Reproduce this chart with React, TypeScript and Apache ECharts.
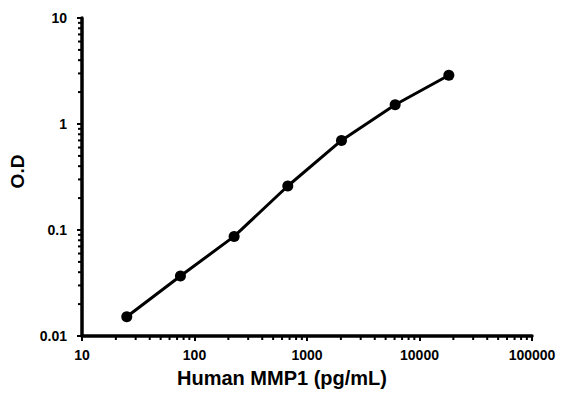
import React, { useEffect, useRef } from "react";
import * as echarts from "echarts";

const concentrations = [25, 75, 225, 675, 2025, 6075, 18225];
const odValues = [0.0152, 0.0368, 0.087, 0.26, 0.70, 1.52, 2.88];
const xMinorTicks = [20, 30, 40, 50, 60, 70, 80, 90, 200, 300, 400, 500, 600, 700, 800, 900, 2000, 3000, 4000, 5000, 6000, 7000, 8000, 9000, 20000, 30000, 40000, 50000, 60000, 70000, 80000, 90000];
const yMinorTicks = [0.02, 0.03, 0.04, 0.05, 0.06, 0.07, 0.08, 0.09, 0.2, 0.3, 0.4, 0.5, 0.6, 0.7, 0.8, 0.9, 2, 3, 4, 5, 6, 7, 8, 9];

export default function App() {
  const ref = useRef<HTMLDivElement>(null);
  useEffect(() => {
    if (!ref.current) return;
    document.body.style.margin = "0";
    const chart = echarts.init(ref.current, undefined, { renderer: "svg" });
    const font = "'Liberation Sans', Arial, sans-serif";
    chart.setOption({
      animation: false,
      backgroundColor: "#ffffff",
      grid: { left: 82, right: 35, top: 18, bottom: 60, containLabel: false, outerBoundsMode: "none" },
      xAxis: {
        type: "log",
        logBase: 10,
        min: 10,
        max: 100000,
        name: "Human MMP1 (pg/mL)",
        nameLocation: "middle",
        nameGap: 32,
        nameTextStyle: { fontFamily: font, fontWeight: "bold", fontSize: 20, color: "#000", padding: [0, 50, 0, 0] },
        axisLine: { lineStyle: { color: "#000", width: 3.5 } },
        axisTick: { show: true, inside: false, length: 5, lineStyle: { color: "#000", width: 2 } },
        axisLabel: { fontFamily: font, fontWeight: "bold", fontSize: 14, color: "#000", margin: 12, formatter: (v: number) => String(v) },
        splitLine: { show: false },
      },
      yAxis: {
        type: "log",
        logBase: 10,
        min: 0.01,
        max: 10,
        name: "O.D",
        nameLocation: "middle",
        nameGap: 55,
        nameRotate: 90,
        nameTextStyle: { fontFamily: font, fontWeight: "bold", fontSize: 19, color: "#000", padding: [0, 0, 0, 11] },
        axisLine: { lineStyle: { color: "#000", width: 3.5 } },
        axisTick: { show: true, inside: false, length: 5, lineStyle: { color: "#000", width: 2 } },
        axisLabel: { fontFamily: font, fontWeight: "bold", fontSize: 14, color: "#000", margin: 15, formatter: (v: number) => String(v) },
        splitLine: { show: false },
      },
      series: [
        {
          type: "line",
          data: concentrations.map((c, i) => [c, odValues[i]]),
          lineStyle: { color: "#000", width: 3 },
          itemStyle: { color: "#000" },
          symbol: "circle",
          symbolSize: 11,
          smooth: false,
          z: 5,
        },
        {
          type: "custom",
          silent: true,
          clip: false,
          data: xMinorTicks.map((v) => [v, 0.01]),
          renderItem: (params: any, api: any) => {
            const p = api.coord([api.value(0), api.value(1)]);
            return { type: "line", shape: { x1: p[0], y1: p[1], x2: p[0], y2: p[1] + 4 }, style: { stroke: "#000", lineWidth: 2 } };
          },
        },
        {
          type: "custom",
          silent: true,
          clip: false,
          data: yMinorTicks.map((v) => [10, v]),
          renderItem: (params: any, api: any) => {
            const p = api.coord([api.value(0), api.value(1)]);
            return { type: "line", shape: { x1: p[0], y1: p[1], x2: p[0] - 4, y2: p[1] }, style: { stroke: "#000", lineWidth: 2 } };
          },
        },
      ],
    });
    return () => chart.dispose();
  }, []);
  return <div ref={ref} style={{ width: 567, height: 396 }} />;
}
